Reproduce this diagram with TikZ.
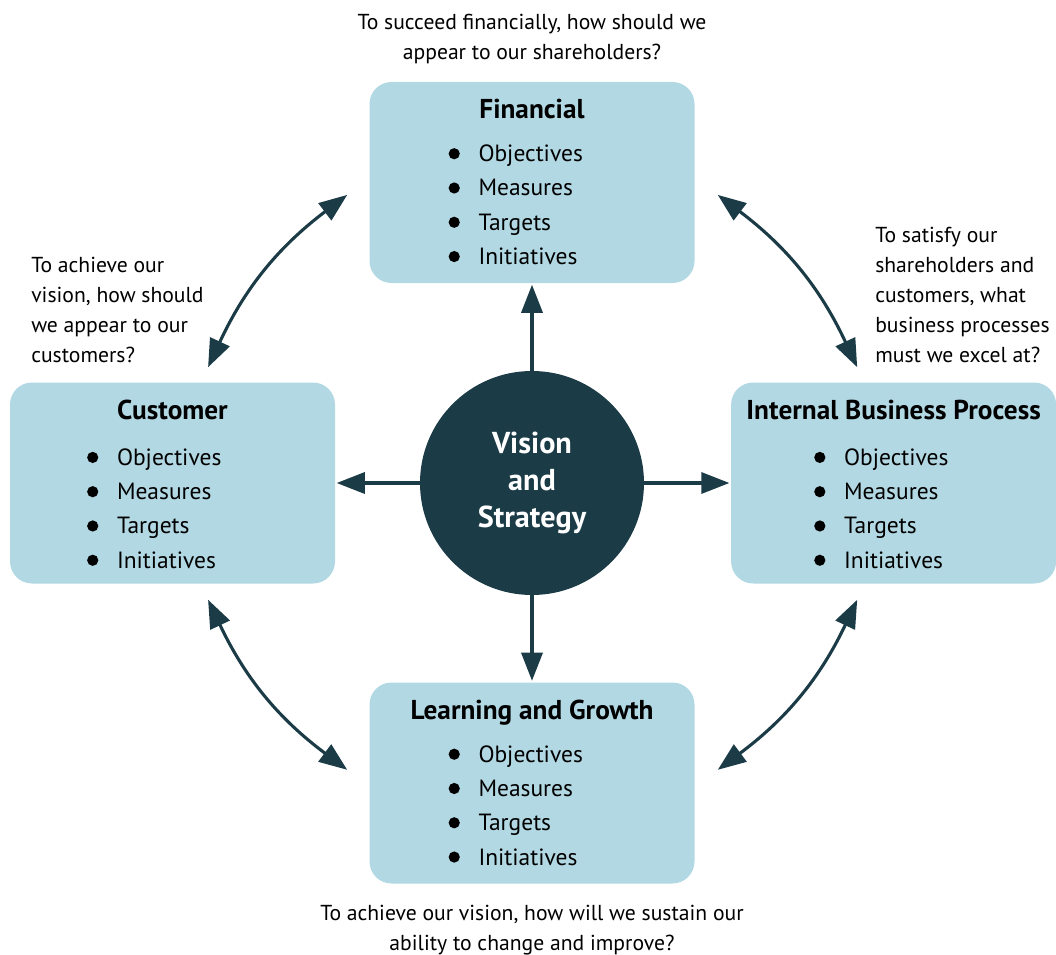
\documentclass[tikz,border=0pt]{standalone}
\usepackage{fontspec}
\setmainfont{PT Sans}
\usetikzlibrary{arrows.meta, positioning, calc}
\definecolor{paleblue}{HTML}{B2D8E3}
\definecolor{deepteal}{HTML}{1B3B47}

\tikzset{
  panel/.style={fill=paleblue, rounded corners=0.55cm, minimum width=8.125cm, minimum height=5.025cm},
  hub/.style={circle, fill=deepteal, minimum size=5.6cm, text=white, align=center, font=\bfseries\fontsize{21.5}{26.3}\selectfont},
  paneltitle/.style={anchor=base, inner sep=0pt, font=\bfseries\fontsize{19.4}{22}\selectfont},
  entry/.style={anchor=base west, inner sep=0pt, font=\fontsize{16.7}{20}\selectfont},
  dot/.style={circle, fill=black, inner sep=0pt, minimum size=0.28cm},
  question/.style={inner sep=0pt, font=\fontsize{15.4}{21.3}\selectfont},
  link/.style={deepteal, line width=2.2pt, shorten >=1pt, -{Triangle[length=20pt,width=15pt]}},
  twoway/.style={deepteal, line width=2.2pt, {Triangle[length=20pt,width=15pt]}-{Triangle[length=20pt,width=15pt]}}
}

\begin{document}
\begin{tikzpicture}
  \useasboundingbox (0,0) rectangle (26.4,-23.875);

  % the four perspectives and the hub
  \node[panel] (fin) at (13.3,-4.5625) {};
  \node[panel] (cust) at (4.3125,-12.075) {};
  \node[panel] (ibp) at (22.34,-12.075) {};
  \node[panel] (lg) at (13.3,-19.575) {};
  \node[hub] (vs) at (13.3,-12.075) {Vision\\and\\Strategy};

  \node[paneltitle] (fin-t) at ($(fin.north)+(0,-0.925)$) {Financial};
  \node[paneltitle] (cust-t) at ($(cust.north)+(0,-0.925)$) {Customer};
  \node[paneltitle] (ibp-t) at ($(ibp.north)+(0,-0.925)$) {Internal Business Process};
  \node[paneltitle] (lg-t) at ($(lg.north)+(0,-0.925)$) {Learning and Growth};

  % bullet lists
  \foreach \b/\dx/\dy in {fin/2.725/2.0, cust/2.675/2.08, ibp/2.825/2.08, lg/2.725/2.0}{
    \foreach \n/\lbl in {1/Objectives, 2/Measures, 3/Targets, 4/Initiatives}{
      \node[entry] (\b-\n) at ($(\b.north west)+(\dx,{-\dy-0.857*(\n-1)})$) {\lbl};
      \node[dot] (\b-d\n) at ($(\b-\n.base west)+(-0.6,0.2)$) {};
    }
  }

  % questions
  \node[question, align=center] (q-fin) at (13.3,-0.98) {To succeed financially, how should we\\appear to our shareholders?};
  \node[question, align=left, anchor=west] (q-cust) at (0.775,-7.75) {To achieve our\\vision, how should\\we appear to our\\customers?};
  \node[question, align=left, anchor=west] (q-ibp) at (21.875,-7.375) {To satisfy our\\shareholders and\\customers, what\\business processes\\must we excel at?};
  \node[question, align=center] (q-lg) at (13.3,-23.25) {To achieve our vision, how will we sustain our\\ability to change and improve?};

  % arrows
  \draw[link] (vs) -- (fin);
  \draw[link] (vs) -- (cust);
  \draw[link] (vs) -- (ibp);
  \draw[link] (vs) -- (lg);
  \draw[twoway] ([xshift=0.89cm,yshift=0.375cm]cust.north) to[bend left=14] ([xshift=-0.55cm,yshift=-0.31cm]fin.west);
  \draw[twoway] ([xshift=0.575cm,yshift=-0.31cm]fin.east) to[bend left=14] ([xshift=-0.91cm,yshift=0.375cm]ibp.north);
  \draw[twoway] ([xshift=-0.91cm,yshift=-0.4cm]ibp.south) to[bend left=14] ([xshift=0.575cm,yshift=0.33cm]lg.east);
  \draw[twoway] ([xshift=-0.55cm,yshift=0.33cm]lg.west) to[bend left=14] ([xshift=0.89cm,yshift=-0.4cm]cust.south);
\end{tikzpicture}
\end{document}
